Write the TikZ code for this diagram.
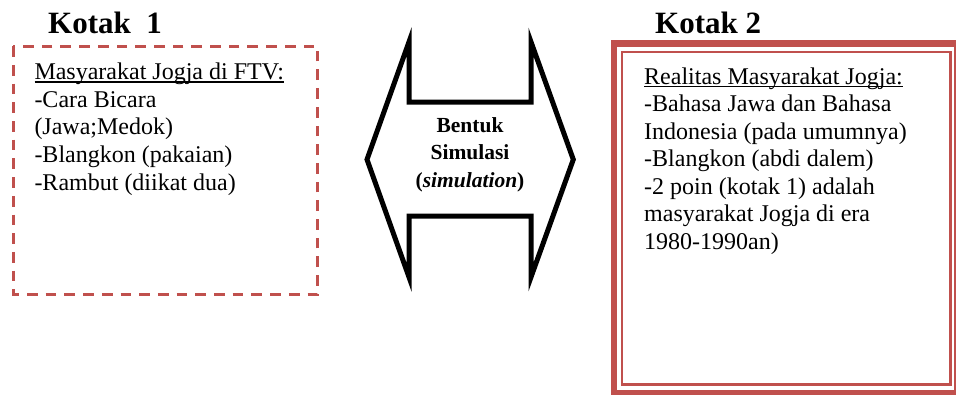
\documentclass[tikz,border=0pt]{standalone}
\usepackage{fontspec}
\setmainfont{Liberation Serif}
\definecolor{accred}{HTML}{C0504D}
\newcommand\myul[1]{\setbox0\hbox{#1}\rlap{\rule[-3.2pt]{\wd0}{1.3pt}}\box0}
\begin{document}
\begin{tikzpicture}[x=1pt,y=-1pt,
  title/.style={anchor=base west, inner sep=0pt, font=\fontsize{31}{36}\selectfont\bfseries},
  bodytext/.style={anchor=base west, inner sep=0pt},
  dashbox/.style={draw=accred, line width=2.7pt, dash pattern=on 10.7pt off 8pt},
  thickborder/.style={draw=accred, line width=6.7pt},
  thinborder/.style={draw=accred, line width=2.3pt},
  arrowshape/.style={draw=black, line width=5pt, line join=miter, fill=white}]
\useasboundingbox (0,0) rectangle (956,394);
\clip (0,0) rectangle (956,394);

% Kotak 1
\node[title] (t1) at (48,33) {Kotak\ \ 1};
\draw[dashbox] (13.3,46.2) rectangle (317.7,294.3);
\node[bodytext] (b1) at (34.3,79.3) {\fontsize{24}{27.7}\selectfont
  \begin{tabular}[t]{@{}l@{}}
  \myul{Masyarakat Jogja di FTV:}\\
  -Cara Bicara\\
  (Jawa;Medok)\\
  -Blangkon (pakaian)\\
  -Rambut (diikat dua)
  \end{tabular}};

% Kotak 2
\node[title] (t2) at (655,33) {Kotak 2};
\draw[thickborder] (614,43.3) rectangle (957.5,393);
\draw[thinborder] (622.2,52.2) rectangle (950.5,384.5);
\node[bodytext] (b2) at (644,84) {\fontsize{24}{27.5}\selectfont
  \begin{tabular}[t]{@{}l@{}}
  \myul{Realitas Masyarakat Jogja:}\\
  -Bahasa Jawa dan Bahasa\\
  Indonesia (pada umumnya)\\
  -Blangkon (abdi dalem)\\
  -2 poin (kotak 1) adalah\\
  masyarakat Jogja di era\\
  1980-1990an)
  \end{tabular}};

% Double arrow
\draw[arrowshape] (367,159.5) -- (409,41.9) -- (409,102) -- (531,102) -- (531,41.9)
  -- (573.3,159.5) -- (531,277.1) -- (531,216) -- (409,216) -- (409,277.1) -- cycle;
\node[anchor=base, inner sep=0pt] (sim) at (470,132) {\fontsize{21.5}{27.5}\selectfont\bfseries
  \begin{tabular}[t]{@{}c@{}}
  Bentuk\\
  Simulasi\\
  (\textit{simulation})
  \end{tabular}};
\end{tikzpicture}
\end{document}
